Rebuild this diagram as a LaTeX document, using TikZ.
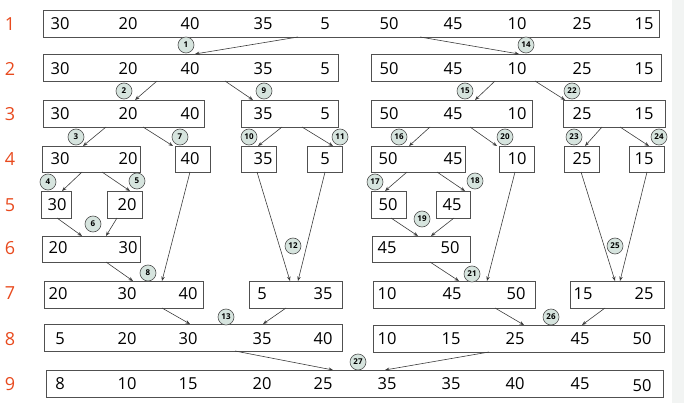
\documentclass[tikz,border=0pt]{standalone}
\usepackage{fontspec}
\setmainfont{Open Sans}
\usetikzlibrary{arrows.meta}
\definecolor{rowred}{RGB}{232,74,30}
\definecolor{circfill}{RGB}{214,228,222}
\definecolor{linegray}{RGB}{80,80,80}
\definecolor{arrgray}{RGB}{60,60,60}
\definecolor{bandgray}{RGB}{242,244,243}
\tikzset{
  box/.style={draw=linegray, line width=0.9pt, inner sep=0pt, outer sep=0pt, rectangle},
  num/.style={font=\fontsize{16.5}{16.5}\selectfont, inner sep=0pt, text=black},
  rowlab/.style={font=\fontsize{18}{18}\selectfont, text=rowred, inner sep=0pt},
  circ/.style={circle, draw=linegray, line width=0.6pt, fill=circfill, minimum size=16pt, inner sep=0pt, font=\fontsize{8}{8}\selectfont\bfseries},
  arr/.style={draw=arrgray, line width=0.6pt, -{Stealth[length=4.5pt,width=3.5pt]}}
}
\newcommand\bx[5]{%
  \node[box, minimum width={#4pt-#2pt}, minimum height={#5pt-#3pt}] (#1) at ({(#2+#4)/2},{(#3+#5)/2}) {};%
  \expandafter\xdef\csname bxl#1\endcsname{#2}}
\newcommand\ar[4]{%
  \draw[arr] ([xshift={(#2-\csname bxl#1\endcsname)*1pt}]#1.south west) -- ([xshift={(#4-\csname bxl#3\endcsname)*1pt}]#3.north west);}
\begin{document}
\begin{tikzpicture}[x=1pt,y=-1pt]
\useasboundingbox (0,0) rectangle (684,403);
\fill[bandgray] (672,0) rectangle (684,403);
% row labels
\foreach \y [count=\i] in {24,69,114,159,205,248,293,339,384}
  \node[rowlab] (lab\i) at (10,\y) {\i};
% boxes
\bx{rA}{43}{10}{659}{37}
\bx{rBa}{43}{54}{338}{81}
\bx{rBb}{371}{54}{661}{81}
\bx{rCa}{43}{100}{204}{127}
\bx{rCb}{241}{100}{338}{127}
\bx{rCc}{371}{100}{532}{127}
\bx{rCd}{563}{100}{665}{127}
\bx{rDa}{42}{146}{140}{172}
\bx{rDb}{175}{146}{210}{172}
\bx{rDc}{241}{146}{276}{172}
\bx{rDd}{307}{146}{342}{172}
\bx{rDe}{371}{146}{465}{172}
\bx{rDf}{499}{146}{534}{172}
\bx{rDg}{564}{146}{599}{172}
\bx{rDh}{629}{146}{664}{172}
\bx{rEa}{41}{191}{71}{218}
\bx{rEb}{107}{191}{142}{218}
\bx{rEc}{371}{191}{406}{218}
\bx{rEd}{436}{191}{470}{218}
\bx{rFa}{42}{236}{140}{262}
\bx{rFb}{372}{236}{470}{262}
\bx{rGa}{44}{281}{203}{308}
\bx{rGb}{249}{281}{342}{308}
\bx{rGc}{373}{281}{535}{308}
\bx{rGd}{570}{281}{664}{308}
\bx{rHa}{44}{324}{342}{351}
\bx{rHb}{373}{325}{664}{352}
\bx{rI}{46}{370}{663}{397}
% numbers
\foreach \v/\x [count=\i] in {30/60,20/128,40/190,35/263,5/325,50/389,45/453,10/517,25/582,15/644}
  \node[num] (tA\i) at (\x,24) {\v};
\foreach \v/\x [count=\i] in {30/60,20/128,40/190,35/263,5/325,50/389,45/453,10/517,25/582,15/644}
  \node[num] (tB\i) at (\x,69) {\v};
\foreach \v/\x [count=\i] in {30/60,20/128,40/190,35/263,5/325,50/389,45/453,10/517,25/582,15/644}
  \node[num] (tC\i) at (\x,114) {\v};
\foreach \v/\x [count=\i] in {30/60,20/128,40/190,35/263,5/325,50/388,45/453,10/517,25/582,15/644}
  \node[num] (tD\i) at (\x,159) {\v};
\foreach \v/\x [count=\i] in {30/57,20/127,50/388,45/452}
  \node[num] (tE\i) at (\x,205) {\v};
\foreach \v/\x [count=\i] in {20/58,30/128,45/387,50/450}
  \node[num] (tF\i) at (\x,248) {\v};
\foreach \v/\x [count=\i] in {20/58,30/127,40/188,5/262,35/323,10/387,45/452,50/516,15/583,25/644}
  \node[num] (tG\i) at (\x,294) {\v};
\foreach \v/\x [count=\i] in {5/60,20/127,30/188,35/262,40/323,10/387,15/451,25/515,45/580,50/642}
  \node[num] (tH\i) at (\x,339) {\v};
\foreach \v/\x [count=\i] in {8/60,10/127,15/188,20/262,25/323,35/387,35/451,40/515,45/580}
  \node[num] (tI\i) at (\x,384) {\v};
\node[num] (tI10) at (642,386) {50};
% arrows
\ar{rA}{298}{rBa}{195}
\ar{rA}{420}{rBb}{519}
\ar{rBa}{157}{rCa}{135}
\ar{rBa}{225}{rCb}{253}
\ar{rBb}{495}{rCc}{475}
\ar{rBb}{535}{rCd}{565}
\ar{rCa}{106}{rDa}{83}
\ar{rCa}{143}{rDb}{173}
\ar{rCb}{282}{rDc}{258}
\ar{rCb}{302}{rDd}{333}
\ar{rCc}{430}{rDe}{409}
\ar{rCc}{470}{rDf}{497}
\ar{rCd}{602}{rDg}{585}
\ar{rCd}{620}{rDh}{649}
\ar{rDa}{82}{rEa}{62}
\ar{rDa}{102}{rEb}{130}
\ar{rDe}{407}{rEc}{385}
\ar{rDe}{437}{rEd}{465}
\ar{rEa}{57}{rFa}{82}
\ar{rEb}{117}{rFa}{106}
\ar{rEc}{391}{rFb}{418}
\ar{rEd}{454}{rFb}{431}
\ar{rFa}{106}{rGa}{133}
\ar{rDb}{190}{rGa}{162}
\ar{rDc}{257}{rGb}{290}
\ar{rDd}{325}{rGb}{298}
\ar{rFb}{430}{rGc}{459}
\ar{rDf}{515}{rGc}{487}
\ar{rDg}{581}{rGd}{615}
\ar{rDh}{647}{rGd}{620}
\ar{rGa}{162}{rHa}{190}
\ar{rGb}{286}{rHa}{263}
\ar{rGc}{495}{rHb}{524}
\ar{rGd}{605}{rHb}{582}
\ar{rHa}{235}{rI}{333}
\ar{rHb}{489}{rI}{385}
% circled step numbers
\foreach \n/\x/\y in {1/186/45,14/526/45,2/124/91,9/264/91,15/465/91,22/572/91,
  3/76/137,7/180/137,10/249/137,11/340/137,16/399/137,20/505/137,23/574/137,24/659/137,
  4/48/182,5/137/181,17/375/182,18/475/181,6/93/224,19/422/219,12/293/246,25/615/246,
  8/148/273,21/472/274,13/226/317,26/551/317,27/358/362}
  \node[circ] (c\n) at (\x,\y) {\n};
\end{tikzpicture}
\end{document}
